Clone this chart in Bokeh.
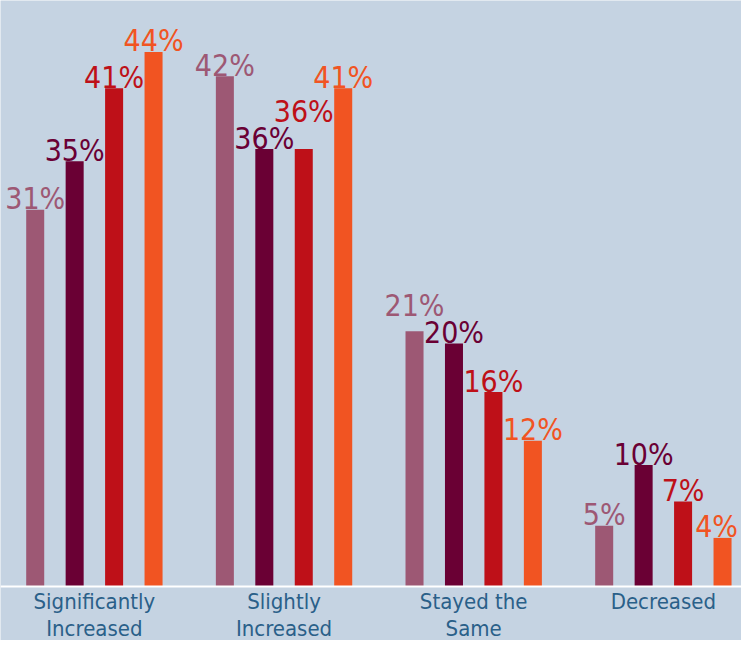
from bokeh.plotting import figure
from bokeh.models import ColumnDataSource, Range1d, Span
from bokeh.core.properties import value
from bokeh.embed import file_html
from bokeh.resources import INLINE

# ---- data ----
categories = ["Significantly\nIncreased", "Slightly\nIncreased", "Stayed the\nSame", "Decreased"]
series_names = ["Series 1", "Series 2", "Series 3", "Series 4"]
series_1 = [31, 42, 21, 5]
series_2 = [35, 36, 20, 10]
series_3 = [41, 36, 16, 7]
series_4 = [44, 41, 12, 4]

# ---- style ----
BG = "#c5d3e2"
colors = ["#9d5874", "#6a0034", "#be1018", "#f15422"]
offsets = [-0.312, -0.104, 0.104, 0.312]
# label nudges in px (dy: extra lift, dx: keep inside the edge)
nudges_y = [
    [0, 0, -15, 0],
    [0, 0, 0, 0],
    [0, -27, 0, 0],
    [0, 0, 0, 0],
]
nudges_x = [
    [0, 0, 0, 0],
    [0, 0, 0, 0],
    [0, 0, 0, 0],
    [0, 0, 0, -6],
]
LABEL_FONT = "DejaVu Sans Condensed"

p = figure(
    width=741, height=640,
    x_range=Range1d(-0.495, 3.412), y_range=Range1d(-4.444, 48.23),
    x_axis_type=None, y_axis_type=None,
    output_backend="svg", toolbar_location=None,
    min_border_left=0, min_border_right=0, min_border_top=0, min_border_bottom=0,
)
p.background_fill_color = BG
p.border_fill_color = BG
p.outline_line_color = None
p.xgrid.visible = False
p.ygrid.visible = False

all_series = [series_1, series_2, series_3, series_4]
for k, vals in enumerate(all_series):
    xs = [i + offsets[k] for i in range(len(categories))]
    src = ColumnDataSource(dict(
        x=xs, top=vals,
        label=[f"{v}%" for v in vals],
        yoff=[-11 + nudges_y[k][i] for i in range(len(vals))],
        xoff=[nudges_x[k][i] for i in range(len(vals))],
    ))
    p.vbar(x="x", top="top", bottom=0, width=0.095, source=src,
           fill_color=colors[k], line_color=None)
    p.text(x="x", y="top", text="label", source=src,
           text_align="center", text_baseline="alphabetic",
           y_offset="yoff", x_offset="xoff",
           text_font=value(LABEL_FONT), text_font_size="30px",
           text_color=colors[k])

# baseline (x axis line)
p.add_layout(Span(location=0, dimension="width", line_color="white", line_width=2))

# category labels
cat_src = ColumnDataSource(dict(x=list(range(len(categories))),
                                y=[0] * len(categories), text=categories))
p.text(x="x", y="y", text="text", source=cat_src,
       text_align="center", text_baseline="top", y_offset=2,
       text_font=value(LABEL_FONT), text_font_size="22px",
       text_line_height=1.1, text_color="#2a6089")

open("out.html", "w").write(file_html(p, INLINE))
